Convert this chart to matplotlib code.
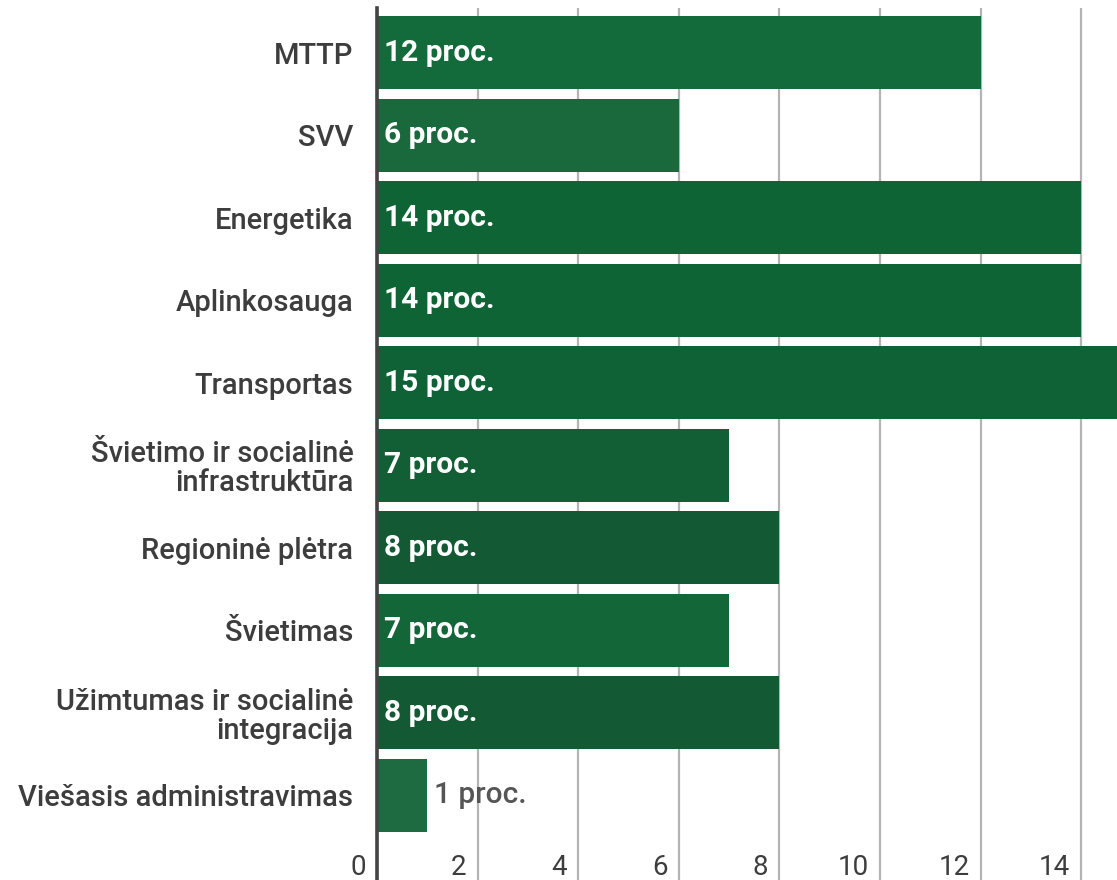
import matplotlib
matplotlib.use("Agg")
import matplotlib.pyplot as plt
from matplotlib import transforms
import numpy as np

categories = ["MTTP", "SVV", "Energetika", "Aplinkosauga", "Transportas",
              "Švietimo ir socialinė\ninfrastruktūra", "Regioninė plėtra",
              "Švietimas", "Užimtumas ir socialinė\nintegracija",
              "Viešasis administravimas"]
values = [12, 6, 14, 14, 15, 7, 8, 7, 8, 1]
value_labels = ["12 proc.", "6 proc.", "14 proc.", "14 proc.", "15 proc.",
                "7 proc.", "8 proc.", "7 proc.", "8 proc.", "1 proc."]
bar_colors = ["#136b3b", "#1a693c", "#0f6436", "#0f6436", "#0e6236",
              "#125f36", "#135a34", "#136638", "#135a34", "#1e6b41"]
x_ticks = [0, 2, 4, 6, 8, 10, 12, 14]
x_tick_labels = ["0", "2", "4", "6", "8", "10", "12", "14"]

plt.rcParams['font.family'] = ['Roboto', 'DejaVu Sans']

fig = plt.figure(figsize=(11.17, 8.8), dpi=100)
ax = fig.add_axes([377 / 1117, 0.0, 1 - 377 / 1117, 1 - 8 / 880])

y = np.arange(len(categories))
ax.barh(y, values, height=0.885, color=bar_colors, zorder=2)

ax.set_xlim(0, 14.71)
ax.set_ylim(10.03, -0.54)

# gridlines
ax.set_xticks(x_ticks)
ax.grid(axis='x', color='#b4b4b4', linewidth=1.6, zorder=1)
ax.tick_params(axis='x', length=0, labelbottom=False)
ax.tick_params(axis='y', length=0)

for s in ['top', 'right', 'bottom']:
    ax.spines[s].set_visible(False)
ax.spines['left'].set_color('#444444')
ax.spines['left'].set_linewidth(2.6)
ax.spines['left'].set_zorder(3)

ax.set_yticks(y)
ax.set_yticklabels(categories, fontsize=21, color='#3d3d3d',
                   fontweight='medium', linespacing=1.05)
ax.tick_params(axis='y', pad=17)
for lbl in ax.get_yticklabels():
    lbl.set_horizontalalignment('right')
    lbl.set_multialignment('right')

# x tick labels drawn inside the plot area, right-aligned left of gridlines
offset = transforms.ScaledTranslation(-8 / 72, 0, fig.dpi_scale_trans)
blend = transforms.blended_transform_factory(ax.transData, ax.transAxes)
for xv, txt in zip(x_ticks, x_tick_labels):
    ax.text(xv, 13 / 872, txt, transform=blend + offset, ha='right',
            va='center', fontsize=20, color='#3d3d3d',
            family=['Liberation Sans Narrow', 'Roboto'], zorder=4)

# value labels
for yi, v, lab in zip(y, values, value_labels):
    if v >= 3:
        ax.text(0.14, yi, lab, ha='left', va='center', color='white',
                fontsize=21.5, fontweight='bold', zorder=4)
    else:
        ax.text(v + 0.13, yi, lab, ha='left', va='center', color='#555555',
                fontsize=21.5, fontweight='medium', zorder=4)

fig.savefig("out.png", dpi=100)
